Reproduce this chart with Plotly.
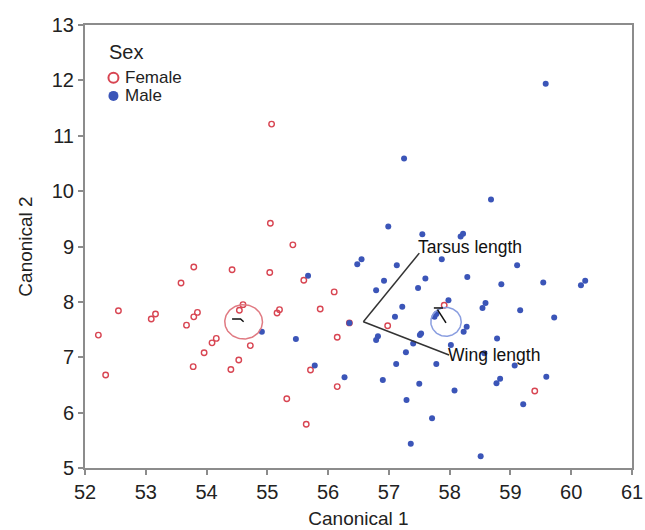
import plotly.graph_objects as go
import numpy as np

# ---------------- data ----------------
female_x = [55.07, 55.05, 55.42, 53.79, 54.42, 55.04, 53.58, 55.60, 56.10, 52.55,
            53.16, 53.09, 53.85, 53.79, 53.67, 54.60, 54.54, 55.20, 55.16, 55.87,
            52.22, 54.16, 54.09, 54.72, 56.15, 53.96, 54.53, 53.78, 54.40, 52.34,
            55.71, 56.15, 55.32, 55.64, 56.98, 57.91, 59.40, 56.35]
female_y = [11.21, 9.42, 9.03, 8.63, 8.58, 8.53, 8.34, 8.39, 8.18, 7.84,
            7.78, 7.69, 7.81, 7.73, 7.58, 7.95, 7.85, 7.86, 7.80, 7.87,
            7.40, 7.34, 7.26, 7.21, 7.36, 7.08, 6.95, 6.83, 6.78, 6.68,
            6.77, 6.47, 6.25, 5.79, 7.57, 7.94, 6.39, 7.62]

male_x = [59.58, 57.25, 58.68, 56.99, 57.55, 58.18, 58.22, 57.87, 59.11, 56.55,
          56.48, 57.13, 56.92, 57.60, 58.29, 56.79, 57.48, 58.85, 59.54, 60.16,
          60.23, 57.98, 58.59, 58.54, 57.22, 59.16, 59.72, 57.10, 57.75, 57.78,
          58.28, 58.23, 57.53, 57.51, 56.82, 56.79, 58.78, 57.40, 58.02, 57.28,
          58.57, 57.12, 57.78, 59.07, 59.59, 56.27, 56.90, 57.50, 58.83, 58.77,
          58.08, 57.29, 59.21, 57.71, 57.36, 58.51, 55.67, 54.91, 55.47, 55.78,
          56.35]
male_y = [11.94, 10.59, 9.85, 9.36, 9.22, 9.18, 9.23, 8.77, 8.66, 8.77,
          8.68, 8.66, 8.38, 8.42, 8.45, 8.21, 8.25, 8.32, 8.35, 8.30,
          8.38, 8.03, 7.98, 7.89, 7.91, 7.85, 7.72, 7.73, 7.73, 7.78,
          7.55, 7.46, 7.43, 7.40, 7.38, 7.31, 7.34, 7.25, 7.22, 7.09,
          7.07, 6.88, 6.88, 6.85, 6.65, 6.64, 6.59, 6.52, 6.61, 6.53,
          6.40, 6.23, 6.15, 5.90, 5.44, 5.21, 8.47, 7.46, 7.33, 6.85,
          7.62]

# group means and confidence-circle radii (x units, y units)
group_names = ["Female", "Male"]
mean_x = [54.61, 57.94]
mean_y = [7.64, 7.64]
radius_x = [0.31, 0.25]
radius_y = [0.31, 0.26]

# biplot rays
ray_origin = [56.58, 7.64]
ray_labels = ["Tarsus length", "Wing length"]
ray_end_x = [57.50, 57.99]
ray_end_y = [8.88, 7.04]

# small mean glyphs inside circles
glyph_x = [[54.42, 54.56, 54.61], [57.74, 57.89, None, 57.80, 57.94]]
glyph_y = [[7.69, 7.69, 7.64], [7.89, 7.89, None, 7.86, 7.62]]

x_ticks = [52, 53, 54, 55, 56, 57, 58, 59, 60, 61]
y_ticks = [5, 6, 7, 8, 9, 10, 11, 12, 13]

RED = "#d84552"
BLUE = "#3b55b8"
FONT = "Liberation Sans, Arial, sans-serif"

fig = go.Figure()

fig.add_trace(go.Scatter(
    x=female_x, y=female_y, mode="markers", name="Female", showlegend=False,
    marker=dict(symbol="circle-open", size=5.5, color=RED, line=dict(width=1.4, color=RED)),
))
fig.add_trace(go.Scatter(
    x=male_x, y=male_y, mode="markers", name="Male", showlegend=False,
    marker=dict(symbol="circle", size=6, color=BLUE),
))

# circles and mean glyphs
t = np.linspace(0, 2 * np.pi, 120)
circ_colors = ["#e07a82", "#8a9ee0"]
for i in range(2):
    fig.add_trace(go.Scatter(
        x=mean_x[i] + radius_x[i] * np.cos(t),
        y=mean_y[i] + radius_y[i] * np.sin(t),
        mode="lines", line=dict(color=circ_colors[i], width=1.5),
        showlegend=False, hoverinfo="skip",
    ))
    fig.add_trace(go.Scatter(
        x=glyph_x[i], y=glyph_y[i], mode="lines",
        line=dict(color="#111111", width=1.5), showlegend=False, hoverinfo="skip",
    ))

# rays
for i in range(2):
    fig.add_trace(go.Scatter(
        x=[ray_origin[0], ray_end_x[i]], y=[ray_origin[1], ray_end_y[i]],
        mode="lines", line=dict(color="#333333", width=1.5),
        showlegend=False, hoverinfo="skip",
    ))
    fig.add_annotation(
        x=ray_end_x[i], y=ray_end_y[i], text=ray_labels[i], showarrow=False,
        xanchor="left", yanchor="middle",
        yshift=6 if i == 0 else 0, xshift=-3,
        font=dict(family=FONT, size=17.5, color="#111111"),
    )

# manual legend (paper coordinates)
fig.add_annotation(xref="paper", yref="paper", x=0.041, y=0.94, text="Sex",
                   showarrow=False, xanchor="left", yanchor="middle",
                   font=dict(family=FONT, size=20, color="#222222"))
leg_y = [0.881, 0.840]
for i, (name, col) in enumerate(zip(group_names, [RED, BLUE])):
    fig.add_shape(type="circle", xref="paper", yref="paper",
                  xsizemode="pixel", ysizemode="pixel",
                  xanchor=0.052, yanchor=leg_y[i],
                  x0=-5, x1=5, y0=-5, y1=5,
                  line=dict(color=col, width=2 if i == 0 else 0),
                  fillcolor="white" if i == 0 else col)
    fig.add_annotation(xref="paper", yref="paper", x=0.070, y=leg_y[i], text=name,
                       showarrow=False, xanchor="left", yanchor="middle",
                       font=dict(family=FONT, size=17, color="#222222"))

axis_common = dict(
    showgrid=False, zeroline=False, showline=True, linecolor="#8c8c8c", linewidth=2,
    mirror=True, ticks="outside", ticklen=5, tickwidth=1.5, tickcolor="#8c8c8c",
    tickfont=dict(family=FONT, size=20, color="#222222"), automargin=False,
)

fig.update_layout(
    width=645, height=530,
    margin=dict(l=85, r=13, t=25, b=62),
    paper_bgcolor="white", plot_bgcolor="white",
    font=dict(family=FONT, color="#222222"),
    showlegend=False,
    xaxis=dict(range=[52, 61], tickvals=x_ticks,
               title=dict(text="Canonical 1", font=dict(family=FONT, size=19), standoff=10),
               **axis_common),
    yaxis=dict(range=[5, 13], tickvals=y_ticks,
               title=dict(text="Canonical 2", font=dict(family=FONT, size=19), standoff=14),
               **axis_common),
)

fig.write_html(
    "out.html",
    config={"displayModeBar": False},
    post_script="document.body.style.margin='0';document.body.style.overflow='hidden';",
)
